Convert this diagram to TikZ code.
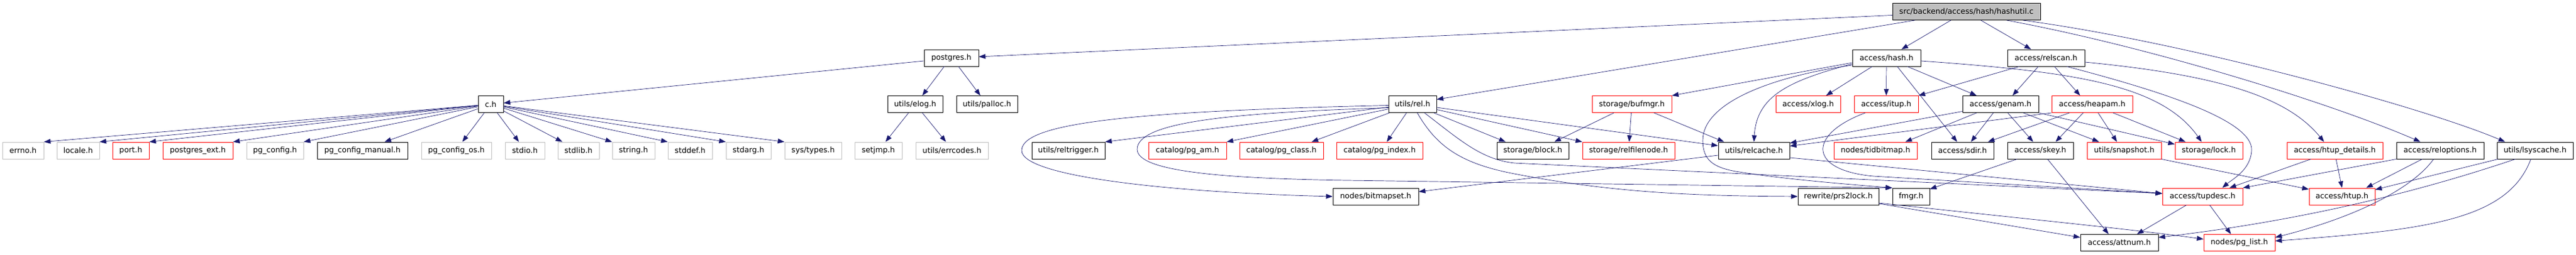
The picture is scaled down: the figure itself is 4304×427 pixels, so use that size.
\documentclass[tikz,border=0pt]{standalone}
\usepackage{fontspec}
\setmainfont{DejaVu Sans}
\usetikzlibrary{arrows.meta}
\definecolor{edgeblue}{HTML}{191970}
\definecolor{boxgray}{HTML}{BFBFBF}
\tikzset{
    hfile/.style={rectangle, minimum height=28pt, inner sep=0pt, line width=0.9pt,
        font=\fontsize{12.7pt}{15pt}\selectfont},
    doc/.style={hfile, draw=black},
    trunc/.style={hfile, draw=red},
    sys/.style={hfile, draw=boxgray},
    root/.style={hfile, draw=black, fill=boxgray},
    dep/.style={draw=edgeblue, line width=0.7pt, -{Triangle[length=11pt,width=8pt]}}
}

\begin{document}
\begin{tikzpicture}[x=1pt, y=-1pt]
    \useasboundingbox (0,0) rectangle (4304,427);
    % files
    \node[root, minimum width=247pt] (hashutil) at (3285.5,19.5) {src/backend/access/hash/hashutil.c};
    \node[doc, minimum width=91pt] (postgres) at (1589.5,97) {postgres.h};
    \node[doc, minimum width=114pt] (hash) at (3152,97) {access/hash.h};
    \node[doc, minimum width=129pt] (relscan) at (3418.5,97) {access/relscan.h};
    \node[doc, minimum width=42pt] (c) at (820,174.5) {c.h};
    \node[doc, minimum width=92pt] (elog) at (1529,174.5) {utils/elog.h};
    \node[doc, minimum width=102pt] (palloc) at (1649,174.5) {utils/palloc.h};
    \node[doc, minimum width=80pt] (rel) at (2360,174.5) {utils/rel.h};
    \node[trunc, minimum width=133pt] (bufmgr) at (2726.5,174.5) {storage/bufmgr.h};
    \node[trunc, minimum width=108pt] (xlog) at (3021,174.5) {access/xlog.h};
    \node[trunc, minimum width=107pt] (itup) at (3151.5,174.5) {access/itup.h};
    \node[doc, minimum width=127pt] (genam) at (3342.5,174.5) {access/genam.h};
    \node[trunc, minimum width=135pt] (heapam) at (3495.5,174.5) {access/heapam.h};
    \node[sys, minimum width=69pt] (errno) at (38.5,252) {errno.h};
    \node[sys, minimum width=71pt] (locale) at (130.5,252) {locale.h};
    \node[trunc, minimum width=61pt] (port) at (218.5,252) {port.h};
    \node[trunc, minimum width=117pt] (pgext) at (330.5,252) {postgres\_ext.h};
    \node[sys, minimum width=95pt] (pgconfig) at (459.5,252) {pg\_config.h};
    \node[doc, minimum width=151pt] (pgmanual) at (605.5,252) {pg\_config\_manual.h};
    \node[sys, minimum width=117pt] (pgos) at (762.5,252) {pg\_config\_os.h};
    \node[sys, minimum width=66pt] (stdio) at (877,252) {stdio.h};
    \node[sys, minimum width=69pt] (stdlib) at (966.5,252) {stdlib.h};
    \node[sys, minimum width=71pt] (string) at (1058.5,252) {string.h};
    \node[sys, minimum width=74pt] (stddef) at (1153,252) {stddef.h};
    \node[sys, minimum width=75pt] (stdarg) at (1250.5,252) {stdarg.h};
    \node[sys, minimum width=95pt] (systypes) at (1358.5,252) {sys/types.h};
    \node[sys, minimum width=79pt] (setjmp) at (1467.5,252) {setjmp.h};
    \node[sys, minimum width=121pt] (errcodes) at (1590.5,252) {utils/errcodes.h};
    \node[doc, minimum width=122pt] (reltrigger) at (1785,252) {utils/reltrigger.h};
    \node[trunc, minimum width=130pt] (pgam) at (1984,252) {catalog/pg\_am.h};
    \node[trunc, minimum width=140pt] (pgclass) at (2141,252) {catalog/pg\_class.h};
    \node[trunc, minimum width=144pt] (pgindex) at (2305,252) {catalog/pg\_index.h};
    \node[doc, minimum width=120pt] (block) at (2561,252) {storage/block.h};
    \node[trunc, minimum width=154pt] (relfilenode) at (2721,252) {storage/relfilenode.h};
    \node[doc, minimum width=119pt] (relcache) at (2930.5,252) {utils/relcache.h};
    \node[trunc, minimum width=139pt] (tidbitmap) at (3133.5,252) {nodes/tidbitmap.h};
    \node[doc, minimum width=104pt] (sdir) at (3279,252) {access/sdir.h};
    \node[doc, minimum width=110pt] (skey) at (3409,252) {access/skey.h};
    \node[trunc, minimum width=124pt] (snapshot) at (3549,252) {utils/snapshot.h};
    \node[trunc, minimum width=113pt] (lock) at (3690.5,252) {storage/lock.h};
    \node[trunc, minimum width=160pt] (htupdet) at (3901,252) {access/htup\_details.h};
    \node[doc, minimum width=146pt] (reloptions) at (4077,252) {access/reloptions.h};
    \node[doc, minimum width=127pt] (lsyscache) at (4235.5,252) {utils/lsyscache.h};
    \node[doc, minimum width=143pt] (bitmapset) at (2298.5,329) {nodes/bitmapset.h};
    \node[doc, minimum width=135pt] (prs2lock) at (3071.5,329) {rewrite/prs2lock.h};
    \node[doc, minimum width=62pt] (fmgr) at (3193,329) {fmgr.h};
    \node[trunc, minimum width=134pt] (tupdesc) at (3680,329) {access/tupdesc.h};
    \node[trunc, minimum width=110pt] (htup) at (3913,329) {access/htup.h};
    \node[doc, minimum width=130pt] (attnum) at (3541,406.5) {access/attnum.h};
    \node[trunc, minimum width=119pt] (pglist) at (3741.5,406.5) {nodes/pg\_list.h};

    % hashutil.c
    \draw [dep] ([yshift=-6pt]hashutil.west) -- ([yshift=2pt]postgres.east);
    \draw [dep] ([xshift=38pt]hashutil.south west) -- ([yshift=8pt]rel.east);
    \draw [dep] ([xshift=98pt]hashutil.south west) -- ([xshift=25pt]hash.north);
    \draw [dep] ([xshift=148pt]hashutil.south west) -- ([xshift=-25pt]relscan.north);
    \draw [dep] ([xshift=191pt]hashutil.south west) .. controls (3600,80) and (3900,175) .. ([xshift=-33pt]reloptions.north);
    \draw [dep] ([xshift=218pt]hashutil.south west) .. controls (3650,70) and (4050,180) .. ([xshift=-50pt]lsyscache.north);

    % postgres.h and c.h
    \draw [dep] ([yshift=-5pt]postgres.west) -- ([yshift=2pt]c.east);
    \draw [dep] ([xshift=-12pt]postgres.south) -- ([xshift=12pt]elog.north);
    \draw [dep] ([xshift=12pt]postgres.south) -- ([xshift=-11pt]palloc.north);
    \draw [dep] ([xshift=-11pt]elog.south) -- ([xshift=12pt]setjmp.north);
    \draw [dep] ([xshift=12pt]elog.south) -- ([xshift=-10pt]errcodes.north);
    \draw [dep] (c) -- (errno.north east);
    \draw [dep] (c) -- (locale.north east);
    \draw [dep] (c) -- (port.north east);
    \draw [dep] (c) -- (pgext.north east);
    \draw [dep] (c) -- (pgconfig.north east);
    \draw [dep] (c) -- ([xshift=37pt]pgmanual.north);
    \draw [dep] (c) -- ([xshift=10pt]pgos.north);
    \draw [dep] (c) -- ([xshift=-10pt]stdio.north);
    \draw [dep] (c) -- ([xshift=8pt]stdlib.north west);
    \draw [dep] (c) -- (string.north west);
    \draw [dep] (c) -- (stddef.north west);
    \draw [dep] (c) -- (stdarg.north west);
    \draw [dep] (c) -- (systypes.north west);

    % utils/rel.h
    \draw [dep] (rel) -- (reltrigger.north east);
    \draw [dep] (rel) -- (pgam.north east);
    \draw [dep] (rel) -- ([xshift=-20pt]pgclass.north east);
    \draw [dep] ([xshift=-10pt]rel.south) -- ([xshift=12pt]pgindex.north);
    \draw [dep] (rel) -- ([xshift=15pt]block.north west);
    \draw [dep] (rel) -- (relfilenode.north west);
    \draw [dep] (rel) -- ([yshift=8pt]relcache.west);
    \draw [dep] ([yshift=-2pt]rel.west) .. controls (1900,186) and (1707,205) .. (1707,252)
        .. controls (1707,295) and (1950,322) .. (bitmapset.west);
    \draw [dep] ([yshift=-6pt]rel.west) .. controls (2050,189) and (1900,205) .. (1900,250)
        .. controls (1900,288) and (2050,299) .. (2250,302) -- (fmgr.north west);
    \draw [dep] ([xshift=20pt]rel.south) .. controls (2440,235) and (2475,267) .. (2530,273) -- ([yshift=5pt]tupdesc.west);
    \draw [dep] ([xshift=8pt]rel.south) .. controls (2400,245) and (2440,272) .. (2520,289)
        .. controls (2700,325) and (2850,328) .. (prs2lock.west);

    % storage/bufmgr.h
    \draw [dep] ([xshift=-30pt]bufmgr.south) -- ([xshift=36pt]block.north);
    \draw [dep] (bufmgr) -- (relfilenode);
    \draw [dep] ([xshift=37pt]bufmgr.south) -- ([xshift=10pt]relcache.north west);

    % access/hash.h
    \draw [dep] ([yshift=-8pt]hash.west) -- (bufmgr.north east);
    \draw [dep] ([yshift=-10pt]hash.west) .. controls (2990,135) and (2935,160) .. (relcache.north);
    \draw [dep] ([yshift=-12pt]hash.west) .. controls (2950,130) and (2845,175) .. (2845,235)
        .. controls (2845,268) and (2862,280) .. (2900,287) .. controls (2980,300) and (3080,308) .. (fmgr.north west);
    \draw [dep] ([xshift=-24pt]hash.south) -- ([xshift=30pt]xlog.north);
    \draw [dep] (hash) -- (itup);
    \draw [dep] ([xshift=18pt]hash.south) -- ([xshift=-9pt]sdir.north);
    \draw [dep] ([xshift=35pt]hash.south) -- ([xshift=-40pt]genam.north);
    \draw [dep] ([yshift=-5pt]hash.east) .. controls (3460,120) and (3610,140) .. ([xshift=-12pt]lock.north);

    % access/relscan.h
    \draw [dep] ([xshift=-45pt]relscan.south) -- (itup.north east);
    \draw [dep] ([xshift=-13pt]relscan.south) -- ([xshift=20pt]genam.north);
    \draw [dep] ([xshift=14pt]relscan.south) -- ([xshift=-20pt]heapam.north);
    \draw [dep] ([yshift=-7pt]relscan.east) .. controls (3700,125) and (3820,160) .. ([xshift=-18pt]htupdet.north);
    \draw [dep] ([xshift=35pt]relscan.south) .. controls (3600,150) and (3765,200) .. (3762,252)
        .. controls (3760,285) and (3730,300) .. ([xshift=33pt]tupdesc.north);

    % access/genam.h and access/heapam.h
    \draw [dep] ([yshift=-12pt]genam.west) -- ([yshift=-2pt]relcache.north east);
    \draw [dep] ([xshift=-40pt]genam.south) -- ([xshift=-20pt]tidbitmap.north east);
    \draw [dep] ([xshift=-12pt]genam.south) -- ([xshift=14pt]sdir.north);
    \draw [dep] ([xshift=12pt]genam.south) -- ([xshift=-12pt]skey.north);
    \draw [dep] ([xshift=38pt]genam.south) -- ([xshift=-42pt]snapshot.north);
    \draw [dep] (genam.south east) -- ([yshift=-4pt]lock.north west);
    \draw [dep] (heapam.south west) -- ([yshift=-7pt]relcache.north east);
    \draw [dep] ([xshift=-38pt]heapam.south) -- ([xshift=-10pt]sdir.north east);
    \draw [dep] ([xshift=-15pt]heapam.south) -- ([xshift=-30pt]skey.north east);
    \draw [dep] ([xshift=10pt]heapam.south) -- ([xshift=-12pt]snapshot.north);
    \draw [dep] ([xshift=35pt]heapam.south) -- ([xshift=18pt]lock.north west);

    % lower rows
    \draw [dep] ([xshift=-35pt]itup.south) .. controls (3020,225) and (3020,285) .. (3130,295) -- ([yshift=5pt]tupdesc.west);
    \draw [dep] ([yshift=-8pt]relcache.west) -- ([yshift=8pt]bitmapset.east);
    \draw [dep] ([yshift=-12pt]relcache.east) -- ([yshift=5pt]tupdesc.west);
    \draw [dep] ([xshift=-39pt]skey.south) -- ([yshift=-2pt]fmgr.north east);
    \draw [dep] ([xshift=12pt]skey.south) -- ([xshift=-18pt]attnum.north);
    \draw [dep] (snapshot.south east) -- ([yshift=12pt]htup.west);
    \draw [dep] ([xshift=-40pt]htupdet.south) -- ([xshift=45pt]tupdesc.north);
    \draw [dep] ([xshift=2pt]htupdet.south) -- (htup.north);
    \draw [dep] (reloptions.south west) -- (tupdesc.north east);
    \draw [dep] ([xshift=-30pt]reloptions.south) -- ([xshift=-15pt]htup.north east);
    \draw [dep] ([xshift=-11pt]reloptions.south) .. controls (4035,310) and (3950,360) .. ([yshift=9pt]pglist.east);
    \draw [dep] ([xshift=2pt]lsyscache.south west) -- ([yshift=-3pt]htup.north east);
    \draw [dep] ([xshift=-33pt]lsyscache.south) .. controls (4000,335) and (3800,375) .. ([yshift=9pt]attnum.east);
    \draw [dep] ([xshift=-7pt]lsyscache.south) .. controls (4190,370) and (4050,385) .. ([yshift=3pt]pglist.east);
    \draw [dep] ([yshift=-12pt]prs2lock.east) -- ([yshift=9pt]attnum.west);
    \draw [dep] ([yshift=-11pt]prs2lock.east) .. controls (3400,368) and (3580,386) .. ([yshift=6pt]pglist.west);
    \draw [dep] ([xshift=-27pt]tupdesc.south) -- ([xshift=-36pt]attnum.north east);
    \draw [dep] ([xshift=12pt]tupdesc.south) -- ([xshift=-14pt]pglist.north);
\end{tikzpicture}
\end{document}
